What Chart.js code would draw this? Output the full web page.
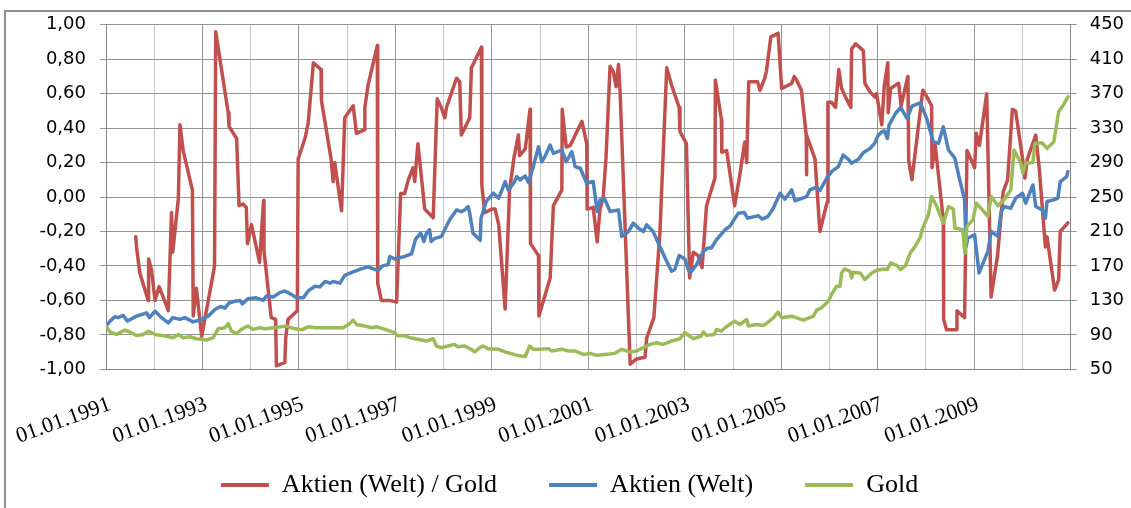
<!DOCTYPE html>
<html>
<head>
<meta charset="utf-8">
<script src="https://cdn.jsdelivr.net/npm/chart.js@4.4.1/dist/chart.umd.min.js"></script>
<style>
  html, body { margin: 0; padding: 0; background: #fff; overflow: hidden; }
  #wrap { position: relative; width: 1131px; height: 508px; }
  #frame { position: absolute; left: 4px; top: 10px; width: 1200px; height: 600px; border: 2px solid #8e8e8e; }
  #chart { position: absolute; left: 0; top: 0; }
</style>
</head>
<body>
<div id="wrap">
  <div id="frame"></div>
  <canvas id="chart" width="1131" height="508"></canvas>
</div>
<script>
// x values are months since 01.01.1991 (0 = Jan 1991, 240 = Jan 2011)
const firstYear = 1991;
const monthMax = 240;

// Aktien (Welt) / Gold -- rolling correlation, left axis (null = gap)
const redMonths = [
  7.4, 7.6, 8.4, 10.5, 10.6, 11.3, 12.2, 13.2, 14.2, 15.5, 16.3, 16.6, 18.0, 18.4, 19.2, 21.5, 21.7, 22.5, 23.8,
  27.0, 27.3, 30.4, 30.6, 32.5, 33.1, 34.1, 34.9, 35.2, 36.2, 38.2, 39.2, 39.3, 41.1, 42.2, 42.4, 44.5, 44.7, 45.3,
  47.6, 47.8, 49.5, 50.3, 51.6, 53.5, 53.6, 56.0, 56.5, 56.9, 58.6, 59.4, 61.5, 62.3, 64.2, 64.4, 65.2, 67.5, 67.6,
  68.5, 70.6, 72.3, 73.3, 74.3, 75.2, 76.4, 76.8, 77.6, 79.3, 81.4, 82.4, 83.4, 84.3, 84.7, 87.2, 88.0, 88.4, 90.5,
  90.9, 93.4, 93.5, 94.2, 96.0, 96.8, 97.7, 99.3, 100.4, 101.5, 102.6, 102.9, 104.3, 105.5, 105.6, 107.6, 107.7,
  110.5, 111.3, 113.4, 113.5, 114.5, 115.5, 118.4, 119.6, 119.7, 121.2, 122.2, 122.9, 123.7, 124.4, 125.4, 126.2,
  126.9, 127.5, 127.9, 130.4, 132.0, 134.1, 134.5, 136.3, 137.8, 139.5, 140.7, 142.6, 142.8, 144.4, 145.2, 146.1,
  147.3, 148.3, 149.4, 151.5, 151.6, 153.1, 153.2, 154.4, 156.4, 157.7, 158.9, 159.4, 159.9, 162.1, 162.7, 163.9,
  164.3, 165.4, 167.2, 168.1, 170.6, 171.2, 171.8, 173.0, 174.2, 174.3, 174.3, 174.3, 176.4, 177.6, 179.4, 179.6,
  180.5, 181.5, 182.3, 183.0, 184.2, 185.3, 185.5, 186.5, 188.4, 188.8, 190.1, 191.3, 191.7, 193.0, 193.6, 194.5,
  194.6, 195.2, 196.4, 197.2, 197.8, 199.5, 199.7, 200.5, 203.2, 204.0, 205.4, 205.5, 206.3, 208.3, 208.4, 209.1,
  211.6, 211.7, 213.6, 214.2, 216.1, 216.5, 217.3, 219.1, 220.2, 221.8, 223.2, 224.3, 225.5, 226.3, 228.1, 228.6,
  229.2, 231.3, 232.2, 233.7, 234.1, 236.0, 237.0, 237.4, 239.3
];
const redValues = [
  -0.23, -0.29, -0.44, -0.60, -0.36, -0.42, -0.60, -0.52, -0.58, -0.66, -0.09, -0.32, -0.01, 0.42, 0.27, 0.04, -0.69, -0.53, -0.81,
  -0.40, 0.96, 0.49, 0.41, 0.34, -0.05, -0.04, -0.06, -0.27, -0.16, -0.38, -0.02, -0.31, -0.70, -0.71, -0.98, -0.96, -0.82, -0.71,
  -0.66, 0.22, 0.34, 0.43, 0.78, 0.74, 0.56, 0.22, 0.09, 0.20, -0.08, 0.46, 0.53, 0.37, 0.39, 0.52, 0.65, 0.88, -0.50,
  -0.60, -0.60, -0.61, 0.02, 0.02, 0.10, 0.17, 0.09, 0.31, -0.07, -0.12, 0.57, 0.52, 0.46, 0.52, 0.69, 0.67, 0.36, 0.46,
  0.75, 0.87, 0.07, -0.09, -0.07, -0.07, -0.16, -0.65, 0.04, 0.23, 0.36, 0.24, 0.28, 0.51, -0.27, -0.34, -0.69,
  -0.47, -0.05, 0.04, 0.51, 0.29, 0.30, 0.44, 0.31, -0.07, -0.06, -0.26, -0.07, 0.00, 0.23, 0.76, 0.73,
  0.64, 0.77, 0.61, -0.97, -0.94, -0.93, -0.82, -0.70, -0.21, 0.75, 0.65, 0.52, 0.38, 0.31, -0.47, -0.32,
  -0.34, -0.41, -0.05, 0.11, 0.68, 0.45, 0.26, 0.27, -0.05, 0.13, 0.32, 0.20, 0.67, 0.67, 0.62, 0.69,
  0.73, 0.93, 0.95, 0.63, 0.66, 0.70, 0.68, 0.62, 0.36, 0.13, null, 0.36, 0.22, -0.20, -0.03, 0.55,
  0.55, 0.52, 0.74, 0.63, 0.57, 0.52, 0.86, 0.89, 0.85, 0.66, 0.61, 0.58, 0.60, 0.42, 0.64, 0.78,
  0.49, 0.63, 0.65, 0.66, 0.53, 0.70, 0.21, 0.10, 0.62, 0.59, 0.53, 0.17, 0.30, -0.13, -0.71, -0.77,
  -0.77, -0.66, -0.70, 0.27, 0.17, 0.37, 0.30, 0.60, -0.58, -0.34, 0.03, 0.10, 0.51, 0.50, 0.21, 0.11,
  0.22, 0.36, 0.16, -0.29, -0.23, -0.54, -0.48, -0.20, -0.15
];

// Aktien (Welt) index, right axis
const stockMonths = [
  0, 1, 2.2, 3, 4.3, 5.3, 7.6, 10.1, 10.8, 12.2, 13.8, 15.5, 16.6, 18.4, 19.6, 21.7, 23.8, 25.4, 27.1, 28.5, 29.6,
  30.6, 32, 33.3, 33.9, 35.3, 37.4, 39.1, 39.9, 41.6, 43.2, 44.5, 46.1, 47.4, 49.1, 50.3, 52, 53.2, 54.5, 55.7,
  56.5, 58.2, 59.4, 61.5, 63.1, 65.2, 67.7, 68.9, 70.2, 70.6, 71.8, 74.3, 76, 77, 78.3, 79.1, 79.7, 80.5, 80.9,
  81.8, 83.4, 84.7, 85.5, 87.2, 88.4, 89.2, 90.1, 90.5, 91.3, 93.1, 93.3, 94.6, 96.4, 97.7, 99.3, 100.1, 101.4,
  102.2, 103, 104.3, 105.1, 106.3, 107.6, 108.4, 109.2, 110.5, 111.3, 113.4, 114.5, 115.9, 116.7, 118, 119.6,
  121.2, 122.2, 122.9, 124.1, 125.4, 127.5, 128.3, 130, 131.2, 132.4, 133.7, 134.5, 136.1, 137.8, 139.3, 140.7,
  141.5, 142.6, 144, 145, 145.7, 146.9, 148.6, 149.8, 150.6, 151.9, 152.7, 154, 155.2, 157.3, 158.8, 159.6, 162.3,
  163.3, 164.7, 166, 167.7, 168.9, 170.6, 171.4, 174.3, 175.1, 176.8, 177.6, 179.3, 180.5, 182.2, 183.4, 184.7,
  185.5, 187.2, 188.4, 190.1, 191.3, 192, 193, 193.6, 194.4, 194.8, 196.4, 197.7, 199.3, 200.5, 202.6, 204.2,
  205.8, 207.1, 208.3, 209.6, 211.2, 212.2, 213.6, 214, 214.4, 216.1, 217.2, 219.4, 220.2, 221.9, 222.7, 223.5,
  225.1, 226.3, 228, 228.8, 230.6, 231.3, 232.9, 233.7, 234.1, 235.8, 236.8, 237.4, 239, 239.3
];
const stockValues = [
  100, 106, 111, 110, 112.5, 106, 111.7, 115.6, 110, 117.5, 110, 104, 110, 108, 110, 105, 108, 111.7, 119.5, 123, 121,
  127, 129, 130, 126, 132, 133, 130, 135, 134, 139, 141, 137, 133, 133, 141, 146.5, 145.7, 152, 150,
  152, 150, 159, 163, 166, 169, 164.6, 170.4, 171.5, 181, 178, 181, 184, 201, 208, 198.5, 208, 212, 198.5,
  202, 204, 216, 223.6, 235, 233, 235, 239, 231, 208, 199.7, 225.5, 245, 254.5, 248.6, 268, 258, 266,
  273.7, 270, 274.5, 266.8, 285.3, 308.4, 291, 297, 310.4, 300.7, 304.6, 291, 302.7, 285.3, 283.4, 266,
  268, 233.2, 246.7, 247.5, 233.2, 235, 204.3, 210, 219.7, 214, 210, 217.8, 210, 192.7, 177.3, 163.8,
  165.8, 182, 178, 164, 163.8, 171.5, 187, 190.8, 190.8, 200.5, 205, 212, 216, 231.3, 232, 225.5, 228.2,
  224.4, 227.5, 237, 254.4, 247.5, 258.3, 245.6, 250.6, 258.3, 261.4, 257.5, 271.8, 279.5, 285.3, 298.8, 293.8,
  289.2, 293.8, 301.5, 306.5, 313, 320.8, 325.8, 327, 318, 333.5, 347, 354, 341, 355.5, 359.4, 341,
  314.2, 312.3, 331.6, 304.6, 295, 273.7, 246.7, 192.7, 202.4, 206.2, 161.9, 187, 210, 204.3, 233.2, 239,
  237, 248.7, 254.4, 242.9, 264, 239, 235.2, 225.5, 244.8, 246.7, 248.7, 268, 273.7, 279.5
];

// Gold index, right axis
const goldMonths = [
  0, 1, 2.6, 4.7, 6, 7.6, 9.3, 10.5, 12.2, 14.7, 16.7, 18, 19.2, 20.9, 22.5, 25, 26.7, 27.9, 29.6, 30.4, 31.2,
  32.5, 33.7, 35.3, 36.6, 38.2, 39.5, 41.6, 43.6, 44.9, 46.1, 48, 49, 50.3, 52, 55.3, 59, 60.3, 61.5, 62.3, 64.4,
  66, 67.3, 69.4, 71.8, 72.7, 73.9, 75.6, 77.6, 79.7, 81.4, 82.2, 83.4, 85.1, 86.7, 87.5, 89.2, 90.9, 91.7, 93,
  93.8, 95, 97.7, 99.3, 100.6, 102.2, 104.3, 105.4, 106.3, 108, 110.1, 110.9, 113.4, 115.1, 116.7, 118.8, 120.4,
  122.1, 124.1, 126.6, 128.3, 130.4, 132, 133.7, 135.3, 137, 138.6, 140.7, 142.8, 144, 145.2, 146.1, 148.1, 148.6,
  149.4, 151.3, 151.9, 153.1, 154, 155.2, 156.4, 157.7, 159.4, 159.8, 161.8, 163.5, 164.3, 166, 167.2, 168.1,
  170.6, 171.8, 173.5, 176, 176.8, 178, 179.7, 180.5, 181.8, 182.6, 183, 183.7, 185.1, 185.5, 185.9, 187.6, 188.8,
  190.5, 191.7, 193.6, 194.4, 195.2, 196.8, 197.7, 198.9, 200.1, 201.3, 202.6, 203, 204.6, 205.4, 206.7, 208.3,
  209.6, 210.8, 211.2, 213.1, 213.7, 214.2, 215.7, 216.5, 218, 219.4, 220.2, 221.9, 223.5, 225.1, 225.9, 227.6,
  228.1, 228.8, 230.6, 231.1, 232.9, 234.1, 235.8, 237, 238.3, 239.3
];
const goldValues = [
  100, 93.2, 90.5, 95.5, 93.2, 89.3, 90.5, 94.3, 90.5, 88.6, 86.7, 90.5, 86.7, 87.8, 85.5, 84, 86.7, 97, 98.2, 103.2, 94.3,
  91.6, 96.3, 100.2, 96.3, 98.2, 97, 98.2, 99.4, 100.2, 98.2, 96.3, 96.3, 99.4, 98.2, 98.2, 98.2, 102, 107, 102, 100.2,
  98.2, 99.4, 96.3, 92.5, 88.6, 89.4, 86.7, 84.8, 82.8, 85.5, 77, 75.1, 77, 78.9, 76.2, 77, 73.2, 70.1, 75.1,
  77, 74, 73.2, 70.1, 68.5, 66.2, 64.7, 77, 73.2, 73.2, 74, 71.2, 73.2, 71.2, 71.2, 67.3, 68.5,
  66.2, 67.3, 68.5, 73.2, 70.1, 71.2, 75.1, 78.9, 80.9, 78.9, 82.8, 85.5, 92.5, 88.6, 85.5, 88.6, 93.2,
  89.4, 90.5, 96.3, 94.4, 98.2, 102, 105.9, 102, 107.8, 100.2, 102, 100.9, 103.2, 109.8, 116.4, 109.8,
  111.7, 109.8, 107, 111.7, 118.7, 121.4, 129.1, 136.8, 146.5, 146.5, 161.9, 166.5, 163.8, 156.1, 162.7, 161.9, 154.2,
  161.9, 165, 166.5, 165.8, 173.5, 170.4, 165.8, 170.4, 185, 192.7, 203.5, 212, 229.4, 250.6, 239, 219.7,
  239, 236, 214, 212, 185, 215.9, 223.6, 242.9, 235.2, 227.5, 250.6, 239.8, 247.5, 258.3, 304.6, 289.2,
  277.6, 289.2, 290, 312.3, 313, 306.5, 314.2, 349, 357.8, 366.3
];

const seriesNames = ["Aktien (Welt) / Gold", "Aktien (Welt)", "Gold"];
const seriesColors = ["#c0504d", "#4f81bd", "#9bbb59"];

function toPoints(xs, ys) {
  return xs.map((x, i) => ({ x: x, y: ys[i] }));
}

const gridMajor = "#949494";
const gridMinor = "#c8c8c8";
const axisFont = { family: "DejaVu Sans", size: 18 };
const serifFont = "Liberation Serif";

// let the rotated date labels hang below the x-axis box instead of being clipped
const labelRoom = {
  id: "labelRoom",
  afterLayout(chart) {
    chart.scales.x.bottom = chart.height;
  },
};

new Chart(document.getElementById("chart"), {
  type: "line",
  data: {
    datasets: [
      { label: seriesNames[0], data: toPoints(redMonths, redValues), yAxisID: "y", borderColor: seriesColors[0], backgroundColor: seriesColors[0], order: 3 },
      { label: seriesNames[1], data: toPoints(stockMonths, stockValues), yAxisID: "y2", borderColor: seriesColors[1], backgroundColor: seriesColors[1], order: 2 },
      { label: seriesNames[2], data: toPoints(goldMonths, goldValues), yAxisID: "y2", borderColor: seriesColors[2], backgroundColor: seriesColors[2], order: 1 },
    ],
  },
  plugins: [labelRoom],
  options: {
    responsive: false,
    animation: false,
    devicePixelRatio: 1,
    spanGaps: false,
    elements: {
      line: { borderWidth: 3.5, tension: 0, borderJoinStyle: "round", borderCapStyle: "round" },
      point: { radius: 0, hoverRadius: 0 },
    },
    layout: { padding: { top: 20.6, left: 8, right: 0, bottom: 0 } },
    plugins: {
      tooltip: { enabled: false },
      legend: {
        position: "bottom",
        labels: {
          usePointStyle: true,
          pointStyle: "line",
          pointStyleWidth: 48,
          boxHeight: 10,
          padding: 52,
          color: "#000",
          font: { family: serifFont, size: 26 },
          sort: (a, b) => a.datasetIndex - b.datasetIndex,
          generateLabels: (chart) =>
            Chart.defaults.plugins.legend.labels.generateLabels(chart).map((item) => Object.assign(item, { lineWidth: 4 })),
        },
      },
    },
    scales: {
      x: {
        type: "linear",
        min: 0,
        max: monthMax,
        afterFit: (s) => { s.height = 50.7; s.paddingLeft = 0; s.paddingRight = 0; },
        border: { color: "#868686", width: 1 },
        grid: {
          drawTicks: false,
          color: (ctx) => (ctx.tick && ctx.tick.value % 24 === 0 ? gridMajor : gridMinor),
        },
        ticks: {
          stepSize: 12,
          autoSkip: false,
          minRotation: 20,
          maxRotation: 20,
          padding: 22,
          labelOffset: 4,
          color: "#000",
          font: { family: serifFont, size: 22 },
          callback: (v) => (v % 24 === 0 && v < monthMax ? "01.01." + (firstYear + v / 12) : ""),
        },
      },
      y: {
        position: "left",
        min: -1,
        max: 1,
        afterFit: (s) => { s.width = 98; },
        border: { color: "#868686", width: 1 },
        grid: { color: gridMajor, tickLength: 6 },
        ticks: {
          stepSize: 0.2,
          padding: 14,
          color: "#000",
          font: axisFont,
          callback: (v) => (Math.abs(v) < 1e-9 ? "0,00" : v.toFixed(2).replace(".", ",")),
        },
      },
      y2: {
        position: "right",
        min: 50,
        max: 450,
        afterFit: (s) => { s.width = 1131 - 1070.7; },
        border: { color: "#868686", width: 1 },
        grid: { drawOnChartArea: false, color: gridMajor, tickLength: 6 },
        ticks: { stepSize: 40, padding: 13, color: "#000", font: axisFont },
      },
    },
  },
});
</script>
</body>
</html>
